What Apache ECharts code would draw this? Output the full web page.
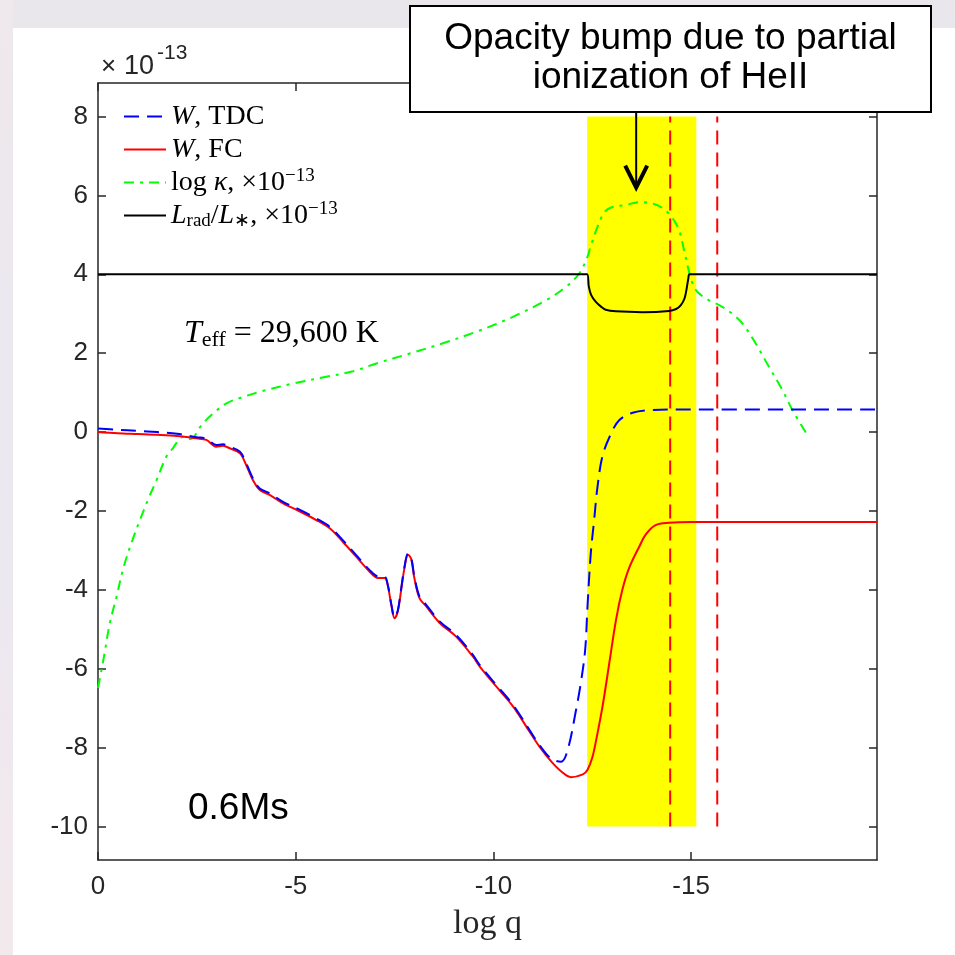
<!DOCTYPE html>
<html><head><meta charset="utf-8">
<script src="https://cdn.jsdelivr.net/npm/echarts@6/dist/echarts.min.js"></script>
<style>html,body{margin:0;padding:0;background:#fff}#c{width:955px;height:955px}</style>
</head><body><div id="c"></div>
<script>
// ---------------- data (log q on x, values in units of 1e-13) ----------------
const fcLogQ = [0, -0.5, -1.0, -1.5, -2.0, -2.49, -2.74, -2.99, -3.16, -3.33, -3.59, -3.75, -3.92, -4.09, -4.34, -4.68, -5.02, -5.52, -5.86, -6.19, -6.53, -6.87, -7.08, -7.25, -7.33, -7.42, -7.50, -7.58, -7.66, -7.75, -7.84, -7.92, -8.00, -8.13, -8.30, -8.64, -9.05, -9.48, -9.65, -10.07, -10.49, -10.91, -11.16, -11.46, -11.71, -11.96, -12.26, -12.38, -12.50, -12.59, -12.76, -12.93, -13.10, -13.26, -13.43, -13.69, -13.85, -14.10, -14.44, -15.00, -19.70];
const fcW = [0.00, -0.03, -0.05, -0.07, -0.10, -0.16, -0.20, -0.37, -0.35, -0.41, -0.54, -0.84, -1.22, -1.47, -1.59, -1.81, -1.97, -2.23, -2.44, -2.78, -3.16, -3.54, -3.70, -3.70, -3.90, -4.40, -4.72, -4.55, -4.05, -3.45, -3.11, -3.22, -3.70, -4.21, -4.42, -4.84, -5.18, -5.69, -5.94, -6.45, -6.95, -7.59, -7.97, -8.35, -8.60, -8.75, -8.68, -8.56, -8.25, -7.85, -6.95, -5.86, -4.76, -4.00, -3.45, -2.90, -2.60, -2.36, -2.30, -2.28, -2.28];

const tdcLogQ = [0, -0.5, -1.0, -1.5, -2.0, -2.49, -2.74, -2.99, -3.16, -3.33, -3.59, -3.75, -3.92, -4.09, -4.34, -4.68, -5.02, -5.52, -5.86, -6.19, -6.53, -6.87, -7.08, -7.25, -7.33, -7.42, -7.50, -7.58, -7.66, -7.75, -7.84, -7.92, -8.00, -8.13, -8.30, -8.64, -9.05, -9.48, -9.65, -10.07, -10.49, -10.91, -11.16, -11.46, -11.71, -11.88, -12.09, -12.21, -12.32, -12.38, -12.46, -12.55, -12.63, -12.76, -12.97, -13.18, -13.52, -14.02, -14.50, -19.70];
const tdcW = [0.09, 0.06, 0.03, 0.00, -0.04, -0.13, -0.17, -0.33, -0.31, -0.37, -0.50, -0.80, -1.18, -1.43, -1.55, -1.77, -1.93, -2.19, -2.40, -2.74, -3.12, -3.50, -3.66, -3.67, -3.88, -4.38, -4.70, -4.53, -4.02, -3.42, -3.08, -3.19, -3.66, -4.17, -4.38, -4.80, -5.14, -5.65, -5.90, -6.41, -6.91, -7.55, -7.93, -8.28, -8.36, -8.05, -7.04, -6.36, -5.52, -4.40, -3.10, -2.20, -1.40, -0.60, -0.05, 0.30, 0.49, 0.56, 0.57, 0.57];

const kapLogQ = [0, -0.09, -0.18, -0.30, -0.47, -0.64, -0.85, -1.06, -1.27, -1.48, -1.73, -1.90, -2.07, -2.18, -2.28, -2.40, -2.49, -2.62, -2.91, -3.25, -3.67, -4.09, -4.93, -5.77, -6.45, -7.04, -7.88, -8.72, -9.56, -10.07, -10.49, -11.33, -11.83, -12.17, -12.38, -12.45, -12.63, -12.81, -12.99, -13.35, -13.70, -14.00, -14.24, -14.51, -14.70, -14.82, -14.95, -15.03, -15.16, -15.45, -15.71, -16.04, -16.30, -16.63, -16.97, -17.31, -17.56, -17.94];
const kapVal = [-6.49, -6.03, -5.52, -4.84, -4.17, -3.45, -2.80, -2.23, -1.70, -1.22, -0.62, -0.40, -0.16, -0.12, -0.18, -0.15, -0.03, 0.18, 0.47, 0.73, 0.89, 1.02, 1.23, 1.40, 1.54, 1.74, 1.99, 2.25, 2.54, 2.74, 2.92, 3.34, 3.68, 4.02, 4.45, 4.68, 5.20, 5.58, 5.70, 5.76, 5.83, 5.80, 5.70, 5.45, 5.10, 4.61, 4.05, 3.78, 3.55, 3.34, 3.22, 3.00, 2.75, 2.25, 1.65, 1.06, 0.56, -0.08];

const lradLogQ = [0, -12.37, -12.41, -12.47, -12.59, -12.72, -12.84, -13.10, -13.77, -14.44, -14.62, -14.74, -14.83, -14.88, -14.93, -14.96, -19.70];
const lradVal = [4.00, 4.00, 3.70, 3.48, 3.30, 3.18, 3.10, 3.06, 3.04, 3.07, 3.12, 3.22, 3.38, 3.60, 3.90, 4.00, 4.00];

const bandLogQ = [-12.37, -15.13];
const bandRange = [-10, 8];
const vlineLogQ = [-14.47, -15.66];
const vlineRange = [-10, 8];

const xTicks = [0, -5, -10, -15];
const yTicks = [-10, -8, -6, -4, -2, 0, 2, 4, 6, 8];
const xRange = [-19.7, 0];
const yRange = [-10.85, 8.85];
const arrowTip = [-13.61, 6.2];

const legendNames = ['W, TDC', 'W, FC', 'log kappa', 'Lrad/L*'];

// ---------------- chart ----------------
const zip = (a, b) => a.map((v, i) => [v, b[i]]);
const AX = '#262626';
const SANS = 'Liberation Sans, Arial, Helvetica, sans-serif';
const SERIF = 'Liberation Serif, Times New Roman, serif';

function xAxisCfg(pos, labels) {
  return {
    type: 'value', position: pos, inverse: true, min: xRange[0], max: xRange[1],
    axisLine: { show: true, onZero: false, lineStyle: { color: AX, width: 1.5 } },
    axisTick: { show: true, inside: true, length: 8, customValues: xTicks, lineStyle: { color: AX, width: 1.5 } },
    axisLabel: { show: labels, customValues: xTicks, color: AX, fontFamily: SANS, fontSize: 26, margin: 14 },
    splitLine: { show: false },
    name: labels ? 'log q' : '', nameLocation: 'middle', nameGap: 47,
    nameTextStyle: { fontFamily: SERIF, fontSize: 34, color: AX }
  };
}
function yAxisCfg(pos, labels) {
  return {
    type: 'value', position: pos, min: yRange[0], max: yRange[1],
    axisLine: { show: true, onZero: false, lineStyle: { color: AX, width: 1.5 } },
    axisTick: { show: true, inside: true, length: 8, customValues: yTicks, lineStyle: { color: AX, width: 1.5 } },
    axisLabel: { show: labels, customValues: yTicks, color: AX, fontFamily: SANS, fontSize: 26, margin: 10 },
    splitLine: { show: false }
  };
}

const richLegend = {
  t: { fontFamily: SERIF, fontSize: 28, lineHeight: 31, color: '#000' },
  i: { fontFamily: SERIF, fontSize: 28, lineHeight: 31, fontStyle: 'italic', color: '#000' },
  sup: { fontFamily: SERIF, fontSize: 19, lineHeight: 19, verticalAlign: 'top', color: '#000' },
  sub: { fontFamily: SERIF, fontSize: 19, lineHeight: 19, verticalAlign: 'bottom', color: '#000' }
};
const legendLabel = {
  'W, TDC': '{i|W}{t|, TDC}',
  'W, FC': '{i|W}{t|, FC}',
  'log kappa': '{t|log }{i|κ}{t|, ×10}{sup|−13}',
  'Lrad/L*': '{i|L}{sub|rad}{t|/}{i|L}{sub|∗}{t|, ×10}{sup|−13}'
};

const lineBase = { type: 'line', symbol: 'none', smooth: 0.35, z: 3, silent: true };

const baseGraphics = [
  { type: 'rect', shape: { x: 0, y: 0, width: 955, height: 28 }, style: { fill: '#e9e7ec' }, z: 1 },
  { type: 'rect', shape: { x: 0, y: 0, width: 13, height: 955 },
    style: { fill: new echarts.graphic.LinearGradient(0, 0, 0, 1, [
      { offset: 0, color: '#efe8ec' }, { offset: 0.5, color: '#ebe8f1' }, { offset: 1, color: '#f2e9ec' }]) }, z: 1 },
  { type: 'text', style: { text: '×', x: 101, y: 67, font: '26px ' + SANS, fill: AX, textAlign: 'left', textVerticalAlign: 'middle' }, z: 5 },
  { type: 'text', style: { text: '10', x: 124, y: 67, font: '27px ' + SANS, fill: AX, textAlign: 'left', textVerticalAlign: 'middle' }, z: 5 },
  { type: 'text', style: { text: '-13', x: 157, y: 53, font: '21px ' + SANS, fill: AX, textAlign: 'left', textVerticalAlign: 'middle' }, z: 5 },
  { type: 'text', style: { text: '{i|T}{sub|eff}{t| = 29,600 K}', x: 184, y: 334, textAlign: 'left', textVerticalAlign: 'middle',
      rich: {
        t: { fontFamily: SERIF, fontSize: 32, lineHeight: 34, fill: '#000' },
        i: { fontFamily: SERIF, fontSize: 32, lineHeight: 34, fontStyle: 'italic', fill: '#000' },
        sub: { fontFamily: SERIF, fontSize: 22, lineHeight: 22, verticalAlign: 'bottom', fill: '#000' }
      } }, z: 5 },
  { type: 'text', style: { text: '0.6Ms', x: 188, y: 809, font: '37px ' + SANS, fill: '#000', textAlign: 'left', textVerticalAlign: 'middle' }, z: 5 },
  { type: 'rect', shape: { x: 410, y: 6, width: 521, height: 106 }, style: { fill: '#fff', stroke: '#000', lineWidth: 2 }, z: 20 },
  { type: 'text', style: { text: 'Opacity bump due to partial\nionization of HeII', x: 670.5, y: 58, font: '37px ' + SANS,
      lineHeight: 39, fill: '#000', textAlign: 'center', textVerticalAlign: 'middle' }, z: 21 }
];

const option = {
  animation: false,
  backgroundColor: '#ffffff',
  grid: { left: 98, top: 83, right: 78, bottom: 95, containLabel: false, outerBoundsMode: 'none' },
  xAxis: [xAxisCfg('bottom', true), xAxisCfg('top', false)],
  yAxis: [yAxisCfg('left', true), yAxisCfg('right', false)],
  legend: {
    data: legendNames, orient: 'vertical', left: 118, top: 96, itemWidth: 42, itemHeight: 14, itemGap: 2,
    selectedMode: false, formatter: n => legendLabel[n],
    itemStyle: { opacity: 0 },
    textStyle: { fontFamily: SERIF, fontSize: 28, lineHeight: 31, color: '#000', rich: richLegend }
  },
  series: [
    { type: 'line', name: 'band', data: [], symbol: 'none', z: 1, silent: true, xAxisIndex: 0, yAxisIndex: 0,
      markArea: { silent: true, itemStyle: { color: '#ffff00', opacity: 1 },
        data: [[{ coord: [bandLogQ[0], bandRange[0]] }, { coord: [bandLogQ[1], bandRange[1]] }]] } },
    { type: 'line', name: 'v1', symbol: 'none', z: 2, silent: true,
      data: [[vlineLogQ[0], vlineRange[0]], [vlineLogQ[0], vlineRange[1]]],
      lineStyle: { color: '#ff0000', width: 2, type: [14, 8] } },
    { type: 'line', name: 'v2', symbol: 'none', z: 2, silent: true,
      data: [[vlineLogQ[1], vlineRange[0]], [vlineLogQ[1], vlineRange[1]]],
      lineStyle: { color: '#ff0000', width: 2, type: [14, 8] } },
    Object.assign({}, lineBase, { name: 'log kappa', data: zip(kapLogQ, kapVal), itemStyle: { color: '#00ff00' },
      lineStyle: { color: '#00ff00', width: 2, type: [10, 6, 3, 6] } }),
    Object.assign({}, lineBase, { name: 'Lrad/L*', data: zip(lradLogQ, lradVal), smooth: 0.3, itemStyle: { color: '#000' },
      lineStyle: { color: '#000', width: 2 } }),
    Object.assign({}, lineBase, { name: 'W, FC', data: zip(fcLogQ, fcW), itemStyle: { color: '#ff0000' },
      lineStyle: { color: '#ff0000', width: 2 } }),
    Object.assign({}, lineBase, { name: 'W, TDC', data: zip(tdcLogQ, tdcW), itemStyle: { color: '#0000ff' },
      lineStyle: { color: '#0000ff', width: 2, type: [15, 8] } })
  ],
  graphic: { elements: baseGraphics }
};

const chart = echarts.init(document.getElementById('c'), null, { renderer: 'canvas' });
chart.setOption(option);
const tip = chart.convertToPixel({ xAxisIndex: 0, yAxisIndex: 0 }, arrowTip);
const arrowGraphics = [
  { type: 'line', shape: { x1: tip[0], y1: 112, x2: tip[0], y2: tip[1] - 2 }, style: { stroke: '#000', lineWidth: 2 }, z: 22 },
  { type: 'polyline', shape: { points: [[tip[0] - 11, tip[1] - 22], [tip[0], tip[1]], [tip[0] + 11, tip[1] - 22]] },
    style: { stroke: '#000', lineWidth: 4, fill: null, lineJoin: 'miter' }, z: 22 }
];
chart.setOption({ graphic: { elements: baseGraphics.concat(arrowGraphics) } });
</script>
</body></html>
